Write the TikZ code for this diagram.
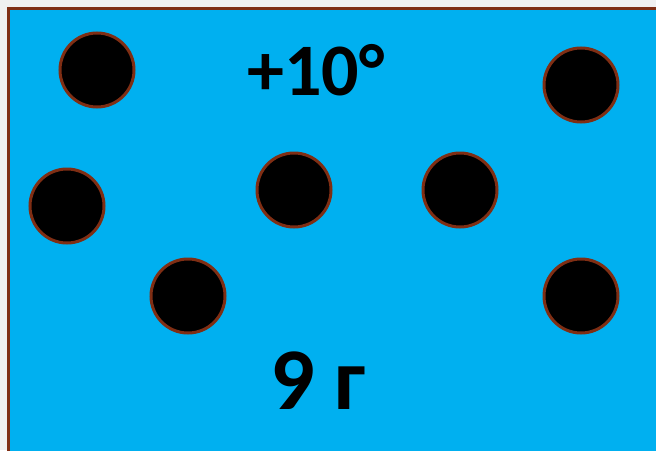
\documentclass[tikz,border=0pt]{standalone}
\usepackage{fontspec}
\setmainfont{Carlito}
\definecolor{bgGrey}{HTML}{F0F0F0}
\definecolor{skyBlue}{HTML}{00B0F0}
\definecolor{brownEdge}{HTML}{7F2E14}
\tikzset{
  ball/.style={circle, fill=black, draw=brownEdge, line width=3pt, minimum size=74pt, inner sep=0pt},
  bigtext/.style={font=\bfseries, text=black, inner sep=0pt}
}
\begin{document}
\begin{tikzpicture}[x=1pt,y=-1pt]
\useasboundingbox (0,0) rectangle (656,450);
\fill[bgGrey] (0,0) rectangle (656,450);
\draw[fill=skyBlue, draw=brownEdge, line width=3pt] (8.5,8.5) rectangle (670,470);
\node[ball] (b1) at (97,70) {};
\node[ball] (b2) at (581,85) {};
\node[ball] (b3) at (67,206) {};
\node[ball] (b4) at (294,190) {};
\node[ball] (b5) at (460,190) {};
\node[ball] (b6) at (188,296) {};
\node[ball] (b7) at (581,296) {};
\node[bigtext, anchor=base, font=\fontsize{74}{74}\selectfont\bfseries] (t1) at (316,95) {+10°};
\node[bigtext, anchor=base, font=\fontsize{88}{88}\selectfont\bfseries] (t2) at (318,409) {9 г};
\end{tikzpicture}
\end{document}
